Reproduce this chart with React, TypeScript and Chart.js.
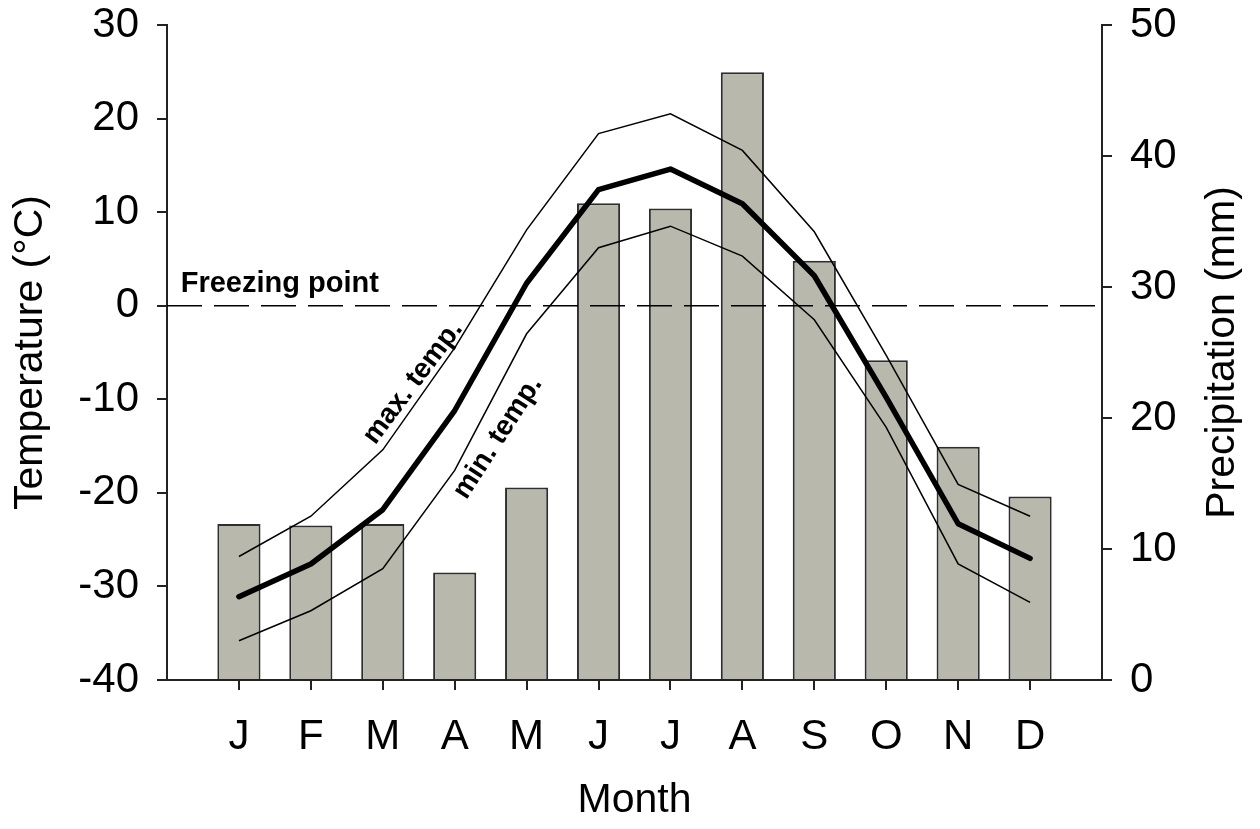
import { useEffect, useRef } from 'react';
import { Chart, registerables } from 'chart.js';

Chart.register(...registerables);

// Monthly climate normals
const MONTHS = ['J', 'F', 'M', 'A', 'M', 'J', 'J', 'A', 'S', 'O', 'N', 'D'];
const PRECIP_MM = [11.9, 11.8, 11.9, 8.2, 14.7, 36.4, 36.0, 46.4, 32.0, 24.4, 17.8, 14.0];
const MEAN_TEMP = [-31.1, -27.6, -21.8, -11.2, 2.4, 12.4, 14.6, 10.9, 3.2, -9.8, -23.3, -27.0];
const MAX_TEMP = [-26.8, -22.5, -15.4, -4.5, 8.1, 18.4, 20.5, 16.6, 7.9, -5.3, -19.1, -22.5];
const MIN_TEMP = [-35.8, -32.6, -28.1, -17.6, -3.0, 6.2, 8.5, 5.3, -1.5, -13.0, -27.6, -31.7];
const FREEZING_POINT = 0;

// Axis ranges
const TEMP_RANGE = [-40, 30];
const PRECIP_RANGE = [0, 50];
const AXIS_STEP = 10;

const FONT = "'Liberation Sans', Arial, Helvetica, sans-serif";
const AXIS_COLOR = '#222';
const BAR_FILL = '#b8b8ac';
const BAR_EDGE = '#2e2e2e';

// In-plot text, placed in data coordinates (x = month position, y = °C)
const CURVE_LABELS = [
  { text: 'Freezing point', x: 0.19, y: 1.5, angle: 0, size: 29, align: 'left', baseline: 'alphabetic' },
  { text: 'max. temp.', x: 3.42, y: -8.2, angle: -53, size: 28, align: 'center', baseline: 'middle' },
  { text: 'min. temp.', x: 4.6, y: -14.1, angle: -57, size: 28, align: 'center', baseline: 'middle' },
];

const monthPoints = (values: number[]) => values.map((v, i) => ({ x: i + 1, y: v }));

const annotationPlugin = {
  id: 'climateAnnotations',
  afterDatasetsDraw(chart: any) {
    const { ctx, scales } = chart;
    const x = scales.x;
    const yT = scales.yTemp;
    const yP = scales.yPrecip;
    ctx.save();
    ctx.fillStyle = '#000';
    for (const a of CURVE_LABELS) {
      ctx.save();
      ctx.translate(x.getPixelForValue(a.x), yT.getPixelForValue(a.y));
      ctx.rotate((a.angle * Math.PI) / 180);
      ctx.font = `bold ${a.size}px ${FONT}`;
      ctx.textAlign = a.align;
      ctx.textBaseline = a.baseline;
      ctx.fillText(a.text, 0, 0);
      ctx.restore();
    }
    // right-hand axis title, reading bottom to top
    ctx.save();
    ctx.translate(yP.left + 121, (yP.top + yP.bottom) / 2);
    ctx.rotate(-Math.PI / 2);
    ctx.font = `41px ${FONT}`;
    ctx.textAlign = 'center';
    ctx.textBaseline = 'middle';
    ctx.fillText('Precipitation (mm)', 0, 0);
    ctx.restore();
    ctx.restore();
  },
};

export default function App() {
  const canvasRef = useRef<HTMLCanvasElement | null>(null);

  useEffect(() => {
    const canvas = canvasRef.current;
    if (!canvas) return;

    const tickFont = { family: FONT, size: 42, lineHeight: 1 };
    const titleFont = { family: FONT, size: 41 };
    const axisGrid = {
      display: true,
      drawOnChartArea: false,
      drawTicks: true,
      tickLength: 10,
      color: AXIS_COLOR,
      lineWidth: 2,
      offset: false,
    };
    const axisBorder = { display: true, color: AXIS_COLOR, width: 2 };
    // keep the plot frame fixed: vertical axes get a set width and no extra end padding
    const fixVertical = (width: number) => (s: any) => {
      s.width = width;
      s.paddingTop = 0;
      s.paddingBottom = 0;
    };

    const chart = new Chart(canvas, {
      type: 'bar',
      data: {
        datasets: [
          {
            type: 'line',
            label: 'Mean temperature',
            data: monthPoints(MEAN_TEMP),
            yAxisID: 'yTemp',
            borderColor: '#000',
            borderWidth: 5.5,
            borderCapStyle: 'round',
            borderJoinStyle: 'round',
            pointRadius: 0,
            tension: 0,
            fill: false,
            order: 1,
          },
          {
            type: 'line',
            label: 'Max temperature',
            data: monthPoints(MAX_TEMP),
            yAxisID: 'yTemp',
            borderColor: '#000',
            borderWidth: 1.5,
            pointRadius: 0,
            tension: 0,
            fill: false,
            order: 1,
          },
          {
            type: 'line',
            label: 'Min temperature',
            data: monthPoints(MIN_TEMP),
            yAxisID: 'yTemp',
            borderColor: '#000',
            borderWidth: 1.5,
            pointRadius: 0,
            tension: 0,
            fill: false,
            order: 1,
          },
          {
            type: 'line',
            label: 'Freezing point',
            data: [
              { x: 0, y: FREEZING_POINT },
              { x: MONTHS.length + 1, y: FREEZING_POINT },
            ],
            yAxisID: 'yTemp',
            borderColor: '#000',
            borderWidth: 1.5,
            borderDash: [35, 12],
            pointRadius: 0,
            fill: false,
            order: 2,
          },
          {
            type: 'bar',
            label: 'Precipitation',
            data: monthPoints(PRECIP_MM),
            yAxisID: 'yPrecip',
            backgroundColor: BAR_FILL,
            borderColor: BAR_EDGE,
            borderWidth: 2,
            barPercentage: 0.6,
            categoryPercentage: 1,
            order: 3,
          },
        ],
      } as any,
      options: {
        animation: false,
        responsive: false,
        maintainAspectRatio: false,
        layout: { padding: { top: 25, left: 0, right: 0, bottom: 0 } },
        plugins: {
          legend: { display: false },
          tooltip: { enabled: false },
        },
        scales: {
          x: {
            type: 'linear',
            position: 'bottom',
            min: 0,
            max: MONTHS.length + 1,
            offset: false,
            afterBuildTicks: (s: any) => {
              s.ticks = MONTHS.map((_, i) => ({ value: i + 1 }));
            },
            afterFit: (s: any) => {
              s.height = 149;
              s.paddingLeft = 0;
              s.paddingRight = 0;
            },
            ticks: {
              autoSkip: false,
              maxRotation: 0,
              font: tickFont,
              color: '#000',
              padding: 26,
              callback: (v: any) => MONTHS[Number(v) - 1] ?? '',
            },
            grid: axisGrid,
            border: axisBorder,
            title: {
              display: true,
              text: 'Month',
              font: titleFont,
              color: '#000',
              padding: { top: 0, bottom: 4 },
            },
          },
          yTemp: {
            type: 'linear',
            position: 'left',
            min: TEMP_RANGE[0],
            max: TEMP_RANGE[1],
            afterFit: fixVertical(167),
            ticks: {
              stepSize: AXIS_STEP,
              font: tickFont,
              color: '#000',
              padding: 18,
            },
            grid: axisGrid,
            border: axisBorder,
            title: {
              display: true,
              text: 'Temperature (°C)',
              font: titleFont,
              color: '#000',
              padding: { top: 6, bottom: 0 },
            },
          },
          yPrecip: {
            type: 'linear',
            position: 'right',
            min: PRECIP_RANGE[0],
            max: PRECIP_RANGE[1],
            afterFit: fixVertical(158),
            ticks: {
              stepSize: AXIS_STEP,
              font: tickFont,
              color: '#000',
              padding: 18,
            },
            grid: axisGrid,
            border: axisBorder,
          },
        },
      } as any,
      plugins: [annotationPlugin],
    });

    return () => {
      chart.destroy();
    };
  }, []);

  return (
    <div style={{ position: 'absolute', left: 0, top: 0, width: 1260, height: 829, background: '#fff' }}>
      <canvas ref={canvasRef} width={1260} height={829} style={{ display: 'block' }} />
    </div>
  );
}
